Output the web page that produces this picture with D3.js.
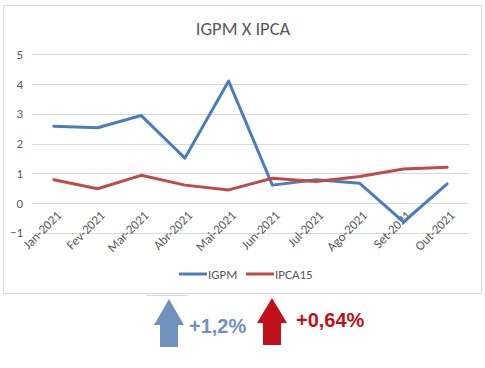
<!DOCTYPE html>
<html><head><meta charset="utf-8">
<script src="https://cdn.jsdelivr.net/npm/d3@7"></script>
<style>body{margin:0;background:#fff}svg{display:block}</style>
</head><body>
<svg id="c" width="485" height="368"></svg>
<script>
const categories = ["Jan-2021","Fev-2021","Mar-2021","Abr-2021","Mai-2021","Jun-2021","Jul-2021","Ago-2021","Set-2021","Out-2021"];
const igpm = [2.58,2.53,2.94,1.51,4.10,0.60,0.78,0.66,-0.64,0.64];
const ipca15 = [0.78,0.48,0.93,0.60,0.44,0.83,0.72,0.89,1.14,1.20];
const yTicks = [-1,0,1,2,3,4,5];
const seriesNames = ["IGPM","IPCA15"];
const title = "IGPM X IPCA";
const badges = [{label:"+1,2%"},{label:"+0,64%"}];

const svg = d3.select("#c");
const font = "Calibri, Carlito, 'Open Sans', Arial, sans-serif";
const blue = "#4a7ebb", red = "#be4b48";

svg.append("rect").attr("x",3.5).attr("y",5.5).attr("width",478).attr("height",288)
  .attr("fill","#fff").attr("stroke","#d9d9d9");

const x = d3.scaleBand().domain(categories).range([32,469]);
const y = d3.scaleLinear().domain([-1,5]).range([232.7,54.3]);

svg.append("text").attr("x",243).attr("y",35).attr("text-anchor","middle")
  .attr("font-family",font).attr("font-size",18.5).attr("fill","#595959").text(title);

const g = svg.append("g");
g.selectAll("line.grid").data(yTicks).join("line")
  .attr("x1",32).attr("x2",469).attr("y1",d=>Math.round(y(d))+0.5).attr("y2",d=>Math.round(y(d))+0.5)
  .attr("stroke","#d9d9d9").attr("stroke-width",1);

const yAxis = d3.axisLeft(y).tickValues(yTicks).tickFormat(d3.format("d")).tickSize(0).tickPadding(0);
svg.append("g").attr("transform","translate(23,0)").call(yAxis)
  .call(s=>s.select(".domain").remove())
  .call(s=>s.selectAll("text").attr("font-family",font).attr("font-size",13).attr("fill","#595959"));

const xAxis = d3.axisBottom(x).tickSize(0).tickPadding(0);
svg.append("g").attr("transform","translate(0,210)").call(xAxis)
  .call(s=>s.select(".domain").remove())
  .call(s=>s.selectAll("text").attr("font-family",font).attr("font-size",13).attr("fill","#595959")
    .attr("text-anchor","end").attr("dy","0.35em").attr("transform","translate(5,3) rotate(-45)"));

const line = d3.line().x((d,i)=>x(categories[i])+x.bandwidth()/2).y(d=>y(d));
svg.append("path").datum(igpm).attr("d",line).attr("fill","none").attr("stroke",blue)
  .attr("stroke-width",3).attr("stroke-linejoin","round").attr("stroke-linecap","round");
svg.append("path").datum(ipca15).attr("d",line).attr("fill","none").attr("stroke",red)
  .attr("stroke-width",3).attr("stroke-linejoin","round").attr("stroke-linecap","round");

const legend = [{n:seriesNames[0],c:blue,x:179},{n:seriesNames[1],c:red,x:246}];
legend.forEach(l=>{
  svg.append("line").attr("x1",l.x).attr("x2",l.x+28).attr("y1",274).attr("y2",274)
    .attr("stroke",l.c).attr("stroke-width",3);
  svg.append("text").attr("x",l.x+29).attr("y",278.5).attr("font-family",font).attr("font-size",13)
    .attr("fill","#595959").text(l.n);
});

svg.append("line").attr("x1",146).attr("x2",188).attr("y1",295.5).attr("y2",295.5).attr("stroke","#d9d9d9");

function arrow(cx, top, bottom, headBottom, hw, sw, color){
  const p = d3.path();
  p.moveTo(cx, top); p.lineTo(cx+hw, headBottom); p.lineTo(cx+sw, headBottom);
  p.lineTo(cx+sw, bottom); p.lineTo(cx-sw, bottom); p.lineTo(cx-sw, headBottom);
  p.lineTo(cx-hw, headBottom); p.closePath();
  svg.append("path").attr("d",p.toString()).attr("fill",color);
}
arrow(169, 299, 347, 325, 15, 9, "#7092be");
arrow(272, 298, 345, 323, 15, 9, "#c0111a");
svg.append("text").attr("x",189).attr("y",333).attr("font-family","'Liberation Sans', Arial, sans-serif")
  .attr("font-weight","bold").attr("font-size",20).attr("fill","#7092be").text(badges[0].label);
svg.append("text").attr("x",296).attr("y",327).attr("font-family","'Liberation Sans', Arial, sans-serif")
  .attr("font-weight","bold").attr("font-size",20).attr("fill","#c0111a").text(badges[1].label);
</script>
</body></html>
